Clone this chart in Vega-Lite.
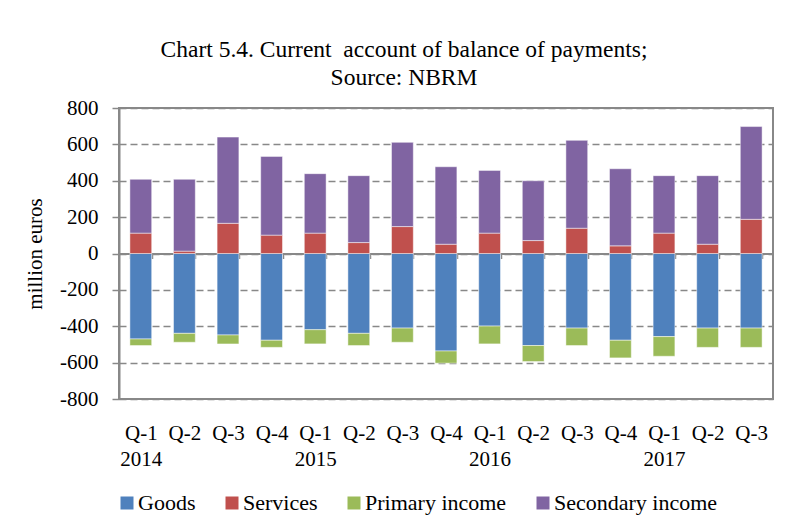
{
  "$schema": "https://vega.github.io/schema/vega-lite/v6.json",
  "width": 654,
  "height": 291,
  "autosize": {"type": "none"},
  "padding": {"left": 119, "top": 108, "right": 12, "bottom": 131},
  "background": "white",
  "title": {
    "text": ["Chart 5.4. Current\u00a0 account of balance of payments;", "Source: NBRM"],
    "anchor": "middle",
    "font": "Liberation Serif",
    "fontSize": 23.5,
    "fontWeight": "normal",
    "color": "#000000",
    "lineHeight": 28,
    "dx": -42,
    "offset": 8
  },
  "config": {
    "view": {"stroke": "#888888", "strokeWidth": 2},
    "font": "Liberation Serif"
  },
  "data": {
    "values": [
      {"p": "2014 Q-1", "s": "Goods", "v": -470}, {"p": "2014 Q-1", "s": "Services", "v": 112}, {"p": "2014 Q-1", "s": "Primary income", "v": -36}, {"p": "2014 Q-1", "s": "Secondary income", "v": 296},
      {"p": "2014 Q-2", "s": "Goods", "v": -439}, {"p": "2014 Q-2", "s": "Services", "v": 13}, {"p": "2014 Q-2", "s": "Primary income", "v": -49}, {"p": "2014 Q-2", "s": "Secondary income", "v": 395},
      {"p": "2014 Q-3", "s": "Goods", "v": -448}, {"p": "2014 Q-3", "s": "Services", "v": 166}, {"p": "2014 Q-3", "s": "Primary income", "v": -49}, {"p": "2014 Q-3", "s": "Secondary income", "v": 474},
      {"p": "2014 Q-4", "s": "Goods", "v": -477}, {"p": "2014 Q-4", "s": "Services", "v": 101}, {"p": "2014 Q-4", "s": "Primary income", "v": -39}, {"p": "2014 Q-4", "s": "Secondary income", "v": 433},
      {"p": "2015 Q-1", "s": "Goods", "v": -419}, {"p": "2015 Q-1", "s": "Services", "v": 112}, {"p": "2015 Q-1", "s": "Primary income", "v": -78}, {"p": "2015 Q-1", "s": "Secondary income", "v": 327},
      {"p": "2015 Q-2", "s": "Goods", "v": -439}, {"p": "2015 Q-2", "s": "Services", "v": 60}, {"p": "2015 Q-2", "s": "Primary income", "v": -67}, {"p": "2015 Q-2", "s": "Secondary income", "v": 368},
      {"p": "2015 Q-3", "s": "Goods", "v": -410}, {"p": "2015 Q-3", "s": "Services", "v": 148}, {"p": "2015 Q-3", "s": "Primary income", "v": -78}, {"p": "2015 Q-3", "s": "Secondary income", "v": 463},
      {"p": "2015 Q-4", "s": "Goods", "v": -536}, {"p": "2015 Q-4", "s": "Services", "v": 51}, {"p": "2015 Q-4", "s": "Primary income", "v": -67}, {"p": "2015 Q-4", "s": "Secondary income", "v": 426},
      {"p": "2016 Q-1", "s": "Goods", "v": -399}, {"p": "2016 Q-1", "s": "Services", "v": 112}, {"p": "2016 Q-1", "s": "Primary income", "v": -98}, {"p": "2016 Q-1", "s": "Secondary income", "v": 345},
      {"p": "2016 Q-2", "s": "Goods", "v": -506}, {"p": "2016 Q-2", "s": "Services", "v": 71}, {"p": "2016 Q-2", "s": "Primary income", "v": -88}, {"p": "2016 Q-2", "s": "Secondary income", "v": 329},
      {"p": "2016 Q-3", "s": "Goods", "v": -410}, {"p": "2016 Q-3", "s": "Services", "v": 139}, {"p": "2016 Q-3", "s": "Primary income", "v": -96}, {"p": "2016 Q-3", "s": "Secondary income", "v": 483},
      {"p": "2016 Q-4", "s": "Goods", "v": -477}, {"p": "2016 Q-4", "s": "Services", "v": 42}, {"p": "2016 Q-4", "s": "Primary income", "v": -97}, {"p": "2016 Q-4", "s": "Secondary income", "v": 424},
      {"p": "2017 Q-1", "s": "Goods", "v": -457}, {"p": "2017 Q-1", "s": "Services", "v": 112}, {"p": "2017 Q-1", "s": "Primary income", "v": -108}, {"p": "2017 Q-1", "s": "Secondary income", "v": 316},
      {"p": "2017 Q-2", "s": "Goods", "v": -410}, {"p": "2017 Q-2", "s": "Services", "v": 51}, {"p": "2017 Q-2", "s": "Primary income", "v": -106}, {"p": "2017 Q-2", "s": "Secondary income", "v": 377},
      {"p": "2017 Q-3", "s": "Goods", "v": -410}, {"p": "2017 Q-3", "s": "Services", "v": 188}, {"p": "2017 Q-3", "s": "Primary income", "v": -106}, {"p": "2017 Q-3", "s": "Secondary income", "v": 510}
    ]
  },
  "mark": {"type": "bar", "stroke": "#ffffff", "strokeOpacity": 0.6, "strokeWidth": 0.8},
  "encoding": {
    "x": {
      "field": "p",
      "type": "ordinal",
      "sort": null,
      "scale": {"paddingInner": 0.5, "paddingOuter": 0.25},
      "axis": {
        "title": null,
        "orient": "bottom",
        "offset": -145.5,
        "domainColor": "#888888",
        "domainWidth": 2,
        "tickBand": "extent",
        "tickColor": "#888888",
        "tickWidth": 1.5,
        "tickSize": 5,
        "labelPadding": 164,
        "labelAngle": 0,
        "labelFont": "Liberation Serif",
        "labelFontSize": 21,
        "labelColor": "#000000",
        "labelLineHeight": 26,
        "labelExpr": "isString(datum.value) ? (substring(datum.value,5,8) == 'Q-1' ? [substring(datum.value,5,8), substring(datum.value,0,4)] : substring(datum.value,5,8)) : ''"
      }
    },
    "y": {
      "field": "v",
      "type": "quantitative",
      "stack": "zero",
      "scale": {"domain": [-800, 800], "nice": false},
      "axis": {
        "title": "million euros",
        "titleFont": "Liberation Serif",
        "titleFontSize": 21,
        "titleFontWeight": "normal",
        "titleColor": "#000000",
        "titlePadding": 14,
        "values": [-800, -600, -400, -200, 0, 200, 400, 600, 800],
        "labelExpr": "'' + datum.value",
        "labelFont": "Liberation Serif",
        "labelFontSize": 21,
        "labelColor": "#000000",
        "labelPadding": 14,
        "domainColor": "#888888",
        "domainWidth": 2,
        "tickColor": "#888888",
        "tickWidth": 1.5,
        "tickSize": 7,
        "grid": true,
        "gridColor": "#888888",
        "gridWidth": 1.5,
        "gridDash": [7, 4]
      }
    },
    "order": {"field": "v", "type": "quantitative", "sort": "ascending"},
    "color": {
      "field": "s",
      "type": "nominal",
      "sort": ["Goods", "Services", "Primary income", "Secondary income"],
      "scale": {
        "domain": ["Goods", "Services", "Primary income", "Secondary income"],
        "range": ["#4F81BD", "#C0504D", "#9BBB59", "#8064A2"]
      },
      "legend": {
        "title": null,
        "orient": "none",
        "direction": "horizontal",
        "columns": 4,
        "legendX": -3,
        "legendY": 384,
        "symbolType": "square",
        "symbolSize": 169,
        "symbolStrokeWidth": 0,
        "labelFont": "Liberation Serif",
        "labelFontSize": 22,
        "labelColor": "#000000",
        "labelLimit": 0,
        "columnPadding": 25,
        "labelOffset": 0
      }
    }
  }
}
